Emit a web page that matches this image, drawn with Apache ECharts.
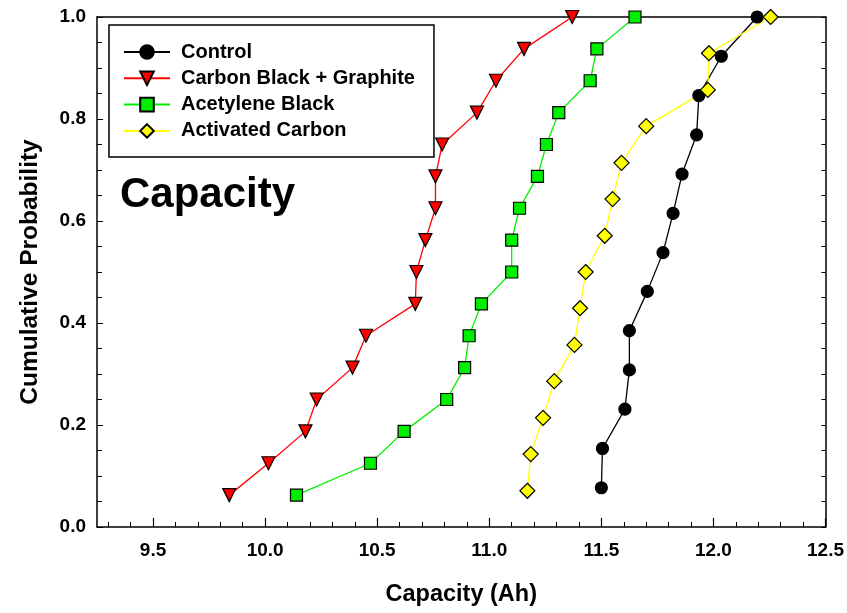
<!DOCTYPE html>
<html>
<head>
<meta charset="utf-8">
<script src="https://cdn.jsdelivr.net/npm/echarts@6/dist/echarts.min.js"></script>
<style>
  html, body { margin: 0; padding: 0; background: #fff; }
  #chart { width: 847px; height: 613px; }
</style>
</head>
<body>
<div id="chart"></div>
<script>
// capacity (Ah) vs cumulative probability
const controlCap = [11.50, 11.505, 11.605, 11.625, 11.625, 11.705, 11.775, 11.82, 11.86, 11.925, 11.935, 12.035, 12.195];
const controlProb = [0.077, 0.154, 0.231, 0.308, 0.385, 0.462, 0.538, 0.615, 0.692, 0.769, 0.846, 0.923, 1.0];

const cbgCap = [9.84, 10.015, 10.18, 10.23, 10.39, 10.45, 10.67, 10.675, 10.715, 10.76, 10.76, 10.79, 10.945, 11.03, 11.155, 11.37];
const cbgProb = [0.0625, 0.125, 0.1875, 0.25, 0.3125, 0.375, 0.4375, 0.5, 0.5625, 0.625, 0.6875, 0.75, 0.8125, 0.875, 0.9375, 1.0];

const acetCap = [10.14, 10.47, 10.62, 10.81, 10.89, 10.91, 10.965, 11.10, 11.10, 11.135, 11.215, 11.255, 11.31, 11.45, 11.48, 11.65];
const acetProb = [0.0625, 0.125, 0.1875, 0.25, 0.3125, 0.375, 0.4375, 0.5, 0.5625, 0.625, 0.6875, 0.75, 0.8125, 0.875, 0.9375, 1.0];

const actCap = [11.17, 11.185, 11.24, 11.29, 11.38, 11.405, 11.43, 11.515, 11.55, 11.59, 11.70, 11.975, 11.98, 12.255];
const actProb = [0.071, 0.143, 0.214, 0.286, 0.357, 0.429, 0.5, 0.571, 0.643, 0.714, 0.786, 0.857, 0.929, 1.0];

const xTicks = [9.5, 10.0, 10.5, 11.0, 11.5, 12.0, 12.5];
const xMinorTicks = [9.3, 9.4, 9.6, 9.7, 9.8, 9.9, 10.1, 10.2, 10.3, 10.4, 10.6, 10.7, 10.8, 10.9,
  11.1, 11.2, 11.3, 11.4, 11.6, 11.7, 11.8, 11.9, 12.1, 12.2, 12.3, 12.4];

const FONT = "'Liberation Sans', Arial, sans-serif";

const pairs = (xs, ys) => xs.map((x, i) => [x, ys[i]]);

const chart = echarts.init(document.getElementById("chart"), null, { renderer: "canvas" });

const lineSeries = (name, xs, ys, color, symbol, size, extra) => ({
  name: name,
  type: "line",
  xAxisIndex: 0,
  yAxisIndex: 0,
  data: pairs(xs, ys),
  symbol: symbol,
  symbolSize: size,
  showAllSymbol: true,
  clip: false,
  lineStyle: { color: color, width: 1.3 },
  itemStyle: { color: color, borderColor: "#000", borderWidth: 1.2 },
  emphasis: { disabled: true },
  animation: false,
  ...extra,
});

const option = {
  backgroundColor: "#fff",
  animation: false,
  textStyle: { fontFamily: FONT },
  grid: { left: 97, right: 18, top: 17, bottom: 86, containLabel: false },
  legend: {
    left: 109,
    top: 25,
    orient: "vertical",
    padding: [17, 19, 16, 14],
    borderColor: "#000",
    borderWidth: 1.5,
    backgroundColor: "#fff",
    itemWidth: 46,
    itemHeight: 17,
    itemGap: 6.3,
    textStyle: { fontFamily: FONT, fontSize: 20, fontWeight: "bold", color: "#000", lineHeight: 20, padding: [0, 0, 0, 6] },
    data: ["Control", "Carbon Black + Graphite", "Acetylene Black", "Activated Carbon"],
  },
  graphic: [
    {
      type: "text",
      left: 120,
      top: 174,
      style: { text: "Capacity", font: "bold 42px " + FONT, fill: "#000" },
    },
  ],
  xAxis: [
    {
      type: "value",
      min: 9.25,
      max: 12.5,
      position: "bottom",
      name: "Capacity (Ah)",
      nameLocation: "middle",
      nameGap: 56,
      nameTextStyle: { fontFamily: FONT, fontSize: 23.5, fontWeight: "bold", color: "#000" },
      axisLine: { show: true, onZero: false, lineStyle: { color: "#000", width: 1.5 } },
      axisTick: { show: true, inside: true, length: 5, customValues: xMinorTicks, lineStyle: { color: "#000", width: 1 } },
      axisLabel: {
        show: true,
        customValues: xTicks,
        margin: 14,
        fontFamily: FONT,
        fontSize: 19,
        fontWeight: "bold",
        color: "#000",
        formatter: (v) => v.toFixed(1),
      },
      splitLine: { show: false },
    },
    {
      type: "value",
      min: 9.25,
      max: 12.5,
      position: "bottom",
      axisLine: { show: false, onZero: false },
      axisTick: { show: true, inside: true, length: 9, customValues: xTicks, lineStyle: { color: "#000", width: 1.2 } },
      axisLabel: { show: false },
      splitLine: { show: false },
    },
    {
      type: "value",
      min: 9.25,
      max: 12.5,
      position: "top",
      axisLine: { show: true, onZero: false, lineStyle: { color: "#000", width: 1.5 } },
      axisTick: { show: false },
      axisLabel: { show: false },
      splitLine: { show: false },
    },
  ],
  yAxis: [
    {
      type: "value",
      min: 0,
      max: 1,
      interval: 0.2,
      position: "left",
      name: "Cumulative Probability",
      nameLocation: "middle",
      nameGap: 54,
      nameTextStyle: { fontFamily: FONT, fontSize: 24.5, fontWeight: "bold", color: "#000" },
      axisLine: { show: true, onZero: false, lineStyle: { color: "#000", width: 1.5 } },
      axisTick: { show: true, inside: true, length: 6, lineStyle: { color: "#000", width: 1 } },
      minorTick: { show: true, splitNumber: 4, length: 5, lineStyle: { color: "#000", width: 1 } },
      axisLabel: {
        margin: 11,
        fontFamily: FONT,
        fontSize: 19,
        fontWeight: "bold",
        color: "#000",
        formatter: (v) => v.toFixed(1),
      },
      splitLine: { show: false },
      minorSplitLine: { show: false },
    },
    {
      type: "value",
      min: 0,
      max: 1,
      interval: 0.2,
      position: "right",
      axisLine: { show: true, onZero: false, lineStyle: { color: "#000", width: 1.5 } },
      axisTick: { show: true, inside: true, length: 4, lineStyle: { color: "#000", width: 1 } },
      minorTick: { show: true, splitNumber: 4, length: 4, lineStyle: { color: "#000", width: 1 } },
      axisLabel: { show: false },
      splitLine: { show: false },
    },
  ],
  series: [
    lineSeries("Control", controlCap, controlProb, "#000000", "circle", 12),
    lineSeries("Carbon Black + Graphite", cbgCap, cbgProb, "#ff0000", "triangle", 13, { symbolRotate: 180 }),
    lineSeries("Acetylene Black", acetCap, acetProb, "#00ee00", "rect", 12),
    lineSeries("Activated Carbon", actCap, actProb, "#ffff00", "diamond", 15),
  ],
};

chart.setOption(option);
</script>
</body>
</html>
